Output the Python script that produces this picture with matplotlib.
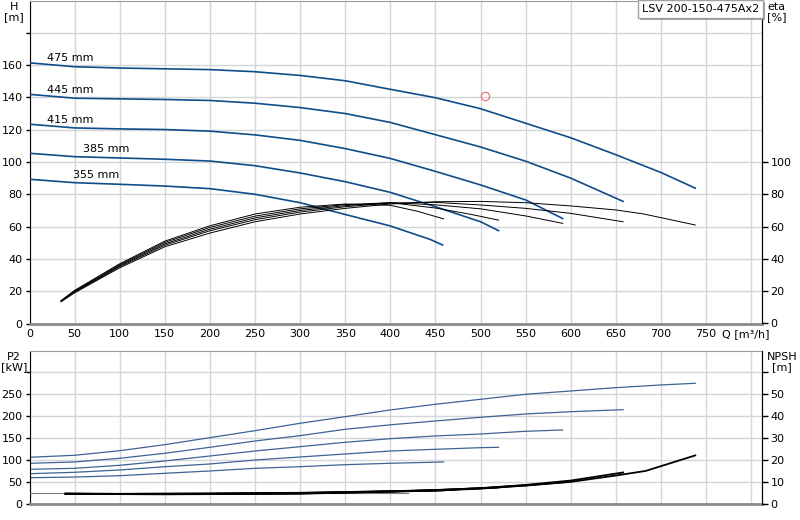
import numpy as np
import matplotlib
matplotlib.use('Agg')
import matplotlib.pyplot as plt
import matplotlib.patheffects as pe

# impeller diameters and curve data
diameters = ['475 mm', '445 mm', '415 mm', '385 mm', '355 mm']

# head H [m] vs Q [m3/h]
q_h_475 = [0, 50, 100, 150, 200, 250, 300, 350, 400, 450, 500, 550, 600, 650, 700, 738]
h_475 = [161.4, 159.0, 158.2, 157.7, 157.2, 155.9, 153.6, 150.3, 145.0, 139.8, 133.0, 124.0, 115.0, 104.5, 93.5, 83.8]
q_h_445 = [0, 50, 100, 150, 200, 250, 300, 350, 400, 450, 500, 550, 600, 658]
h_445 = [141.9, 139.5, 139.1, 138.7, 138.1, 136.4, 133.7, 130.0, 124.5, 116.9, 109.3, 100.5, 90.0, 75.6]
q_h_415 = [0, 50, 100, 150, 200, 250, 300, 350, 400, 450, 500, 550, 591]
h_415 = [123.4, 121.1, 120.5, 120.1, 119.1, 116.8, 113.4, 108.3, 102.2, 94.2, 85.8, 76.5, 65.0]
q_h_385 = [0, 50, 100, 150, 200, 250, 300, 350, 400, 450, 500, 520]
h_385 = [105.4, 103.3, 102.5, 101.7, 100.6, 97.7, 93.2, 87.8, 81.2, 72.3, 63.0, 57.5]
q_h_355 = [0, 50, 100, 150, 200, 250, 300, 350, 400, 444, 458]
h_355 = [89.3, 87.2, 86.2, 85.1, 83.5, 80.0, 74.8, 67.5, 60.4, 52.1, 48.6]

# efficiency eta [%]
q_eta_475 = [35, 50, 100, 150, 200, 250, 300, 350, 400, 450, 500, 550, 600, 650, 681, 738]
eta_475 = [13.5, 19.0, 34.5, 47.5, 56.0, 63.0, 67.8, 71.3, 74.0, 75.4, 75.6, 74.8, 72.8, 70.3, 67.8, 61.0]
q_eta_445 = [35, 50, 100, 150, 200, 250, 300, 350, 400, 450, 500, 550, 600, 658]
eta_445 = [13.6, 19.4, 35.2, 48.5, 57.4, 64.3, 69.0, 72.3, 74.6, 75.0, 73.4, 71.3, 68.2, 63.0]
q_eta_415 = [35, 50, 100, 150, 200, 250, 300, 350, 400, 450, 500, 550, 591]
eta_415 = [13.8, 19.8, 35.8, 49.3, 58.4, 65.4, 70.0, 73.0, 74.8, 73.5, 71.0, 66.6, 62.0]
q_eta_385 = [35, 50, 100, 150, 200, 250, 300, 350, 400, 450, 490, 520]
eta_385 = [14.0, 20.1, 36.4, 50.2, 59.5, 66.5, 71.0, 73.6, 74.8, 71.5, 67.5, 64.0]
q_eta_355 = [35, 50, 100, 150, 200, 250, 300, 350, 400, 430, 459]
eta_355 = [14.2, 20.5, 37.0, 51.0, 60.5, 67.8, 72.0, 74.0, 73.2, 69.5, 64.8]

# shaft power P2 [kW]
q_p_475 = [0, 50, 100, 150, 200, 250, 300, 350, 400, 450, 500, 550, 600, 650, 700, 738]
p_475 = [105.7, 110.3, 120.8, 134.6, 150.6, 166.6, 183.5, 198.6, 214.0, 227.0, 238.4, 249.9, 257.4, 265.0, 271.2, 275.0]
q_p_445 = [0, 50, 100, 150, 200, 250, 300, 350, 400, 450, 500, 550, 600, 658]
p_445 = [92.0, 95.0, 103.4, 114.9, 128.6, 143.0, 155.2, 169.8, 180.0, 188.8, 197.2, 204.8, 210.0, 214.7]
q_p_415 = [0, 50, 100, 150, 200, 250, 300, 350, 400, 450, 500, 550, 591]
p_415 = [78.2, 80.5, 87.4, 97.3, 108.7, 120.1, 130.0, 140.0, 148.3, 154.5, 159.0, 165.2, 168.2]
q_p_385 = [0, 50, 100, 150, 200, 250, 300, 350, 400, 450, 500, 520]
p_385 = [68.2, 71.4, 76.7, 84.2, 90.4, 99.5, 106.4, 113.3, 120.1, 124.0, 127.7, 128.6]
q_p_355 = [0, 50, 100, 150, 200, 250, 300, 350, 400, 459]
p_355 = [59.0, 60.5, 63.6, 69.1, 74.4, 80.5, 84.2, 88.8, 92.0, 95.0]

# NPSH [m]
q_n_475 = [40, 100, 150, 200, 300, 400, 450, 500, 550, 600, 650, 683, 738]
n_475 = [4.5, 4.3, 4.2, 4.3, 4.5, 5.4, 5.9, 6.8, 8.2, 9.9, 12.8, 14.9, 22.0]
q_n_445 = [40, 100, 200, 300, 400, 450, 500, 550, 600, 658]
n_445 = [4.4, 4.3, 4.4, 4.6, 5.5, 6.0, 7.0, 8.5, 10.5, 14.2]
q_n_415 = [40, 100, 200, 300, 400, 450, 500, 550, 591]
n_415 = [4.4, 4.3, 4.4, 4.7, 5.5, 6.1, 7.0, 8.3, 9.7]
q_n_385 = [40, 100, 200, 300, 400, 450, 500, 520]
n_385 = [4.5, 4.4, 4.5, 4.8, 5.6, 6.2, 7.0, 7.3]
q_n_355 = [40, 100, 200, 300, 400, 459]
n_355 = [4.5, 4.4, 4.6, 4.9, 5.6, 6.0]
q_n_base = [0, 420]
n_base = [4.6, 4.6]

# duty point
duty_q = [505]
duty_h = [141]

head = [(q_h_475, h_475), (q_h_445, h_445), (q_h_415, h_415), (q_h_385, h_385), (q_h_355, h_355)]
effs = [(q_eta_475, eta_475), (q_eta_445, eta_445), (q_eta_415, eta_415), (q_eta_385, eta_385), (q_eta_355, eta_355)]
powers = [(q_p_475, p_475), (q_p_445, p_445), (q_p_415, p_415), (q_p_385, p_385), (q_p_355, p_355)]
npshs = [(q_n_475, n_475), (q_n_445, n_445), (q_n_415, n_415), (q_n_385, n_385), (q_n_355, n_355)]
label_pos = [(19, 164.5), (19, 144.6), (19, 126), (59, 108), (48, 92)]

plt.rcParams['font.family'] = 'DejaVu Sans'
plt.rcParams['font.size'] = 8
blue = '#0f4c8a'
grid_c = '#d3d6d9'
W, H = 800, 520

fig = plt.figure(figsize=(8, 5.2), dpi=100)
ax = fig.add_axes([29.5 / W, 1 - 323.5 / H, (762 - 29.5) / W, 323 / H])
axr = ax.twinx()
bx = fig.add_axes([29.5 / W, 1 - 503.5 / H, (762 - 29.5) / W, 153 / H])
bxr = bx.twinx()

for a in (ax, bx):
    a.set_xlim(0, 812)
    a.set_xticks(np.arange(0, 801, 50))
    a.grid(True, color=grid_c, lw=1)
    a.set_axisbelow(True)
    a.tick_params(axis='x', length=0, pad=4, labelsize=8)
    a.tick_params(axis='y', direction='out', length=3, width=1, labelsize=8, pad=2)
    a.spines['left'].set_color('black')
    a.spines['top'].set_color('#9a9a9a')
    a.spines['bottom'].set_color('#8a8a8a')
    a.spines['bottom'].set_linewidth(2)
for a in (axr, bxr):
    a.spines['right'].set_color('black')
    a.spines['top'].set_visible(False)
    a.spines['left'].set_visible(False)
    a.spines['bottom'].set_visible(False)
    a.tick_params(axis='y', direction='out', length=4, width=1, labelsize=8, pad=2)

# top panel: head and efficiency
ax.set_ylim(0, 200)
ax.set_yticks(np.arange(0, 181, 20))
ax.set_yticklabels([str(v) if v <= 160 else '' for v in range(0, 181, 20)])
xt = [str(v) if v <= 750 else '' for v in range(0, 801, 50)]
ax.set_xticklabels(xt)
axr.set_ylim(0, 200)
axr.set_yticks(np.arange(0, 101, 20))

for (q, h), lab, (lx, ly) in zip(head, diameters, label_pos):
    ax.plot(q, h, color=blue, lw=1.2, zorder=3)
    ax.text(lx, ly, lab, fontsize=8, va='center', ha='left')
for q, e in effs:
    axr.plot(q, e, color='black', lw=0.7)
ax.plot(duty_q, duty_h, 'o', mfc='none', mec='#e86b6b', ms=6, mew=0.8, zorder=4)

# bottom panel: power and NPSH
bx.set_ylim(0, 350)
bx.set_yticks(np.arange(0, 301, 50))
bx.set_yticklabels([str(v) if v <= 250 else '' for v in range(0, 301, 50)])
bx.set_xticklabels([])
bxr.set_ylim(0, 70)
bxr.set_yticks(np.arange(0, 61, 10))
bxr.set_yticklabels([str(v) if v <= 50 else '' for v in range(0, 61, 10)])

for q, p in powers:
    bx.plot(q, p, color='#3d6394', lw=0.9)
bxr.plot(q_n_base, n_base, color='#7a7a7a', lw=0.8)
for q, n in npshs:
    bxr.plot(q, n, color='black', lw=1.3)

# axis titles
fig.text(14 / W, 1 - 12 / H, 'H\n[m]', ha='center', va='center', fontsize=8, linespacing=1.1)
fig.text(767 / W, 1 - 12 / H, 'eta\n[%]', ha='left', va='center', fontsize=8, linespacing=1.1)
fig.text(14 / W, 1 - 362 / H, 'P2\n[kW]', ha='center', va='center', fontsize=8, linespacing=1.1)
fig.text(782 / W, 1 - 362 / H, 'NPSH\n[m]', ha='center', va='center', fontsize=8, linespacing=1.1)
fig.text(722 / W, 1 - 334 / H, 'Q [m³/h]', ha='left', va='center', fontsize=8)

t = fig.text(759 / W, 1 - 9 / H, 'LSV 200-150-475Ax2', ha='right', va='center', fontsize=8,
             bbox=dict(boxstyle='square,pad=0.35', fc='white', ec='#a0a0a0', lw=1))
t.get_bbox_patch().set_path_effects([pe.SimplePatchShadow(offset=(1.2, -1.2), shadow_rgbFace='#888888', alpha=0.8),
                                     pe.Normal()])

fig.savefig('out.png', dpi=100)
